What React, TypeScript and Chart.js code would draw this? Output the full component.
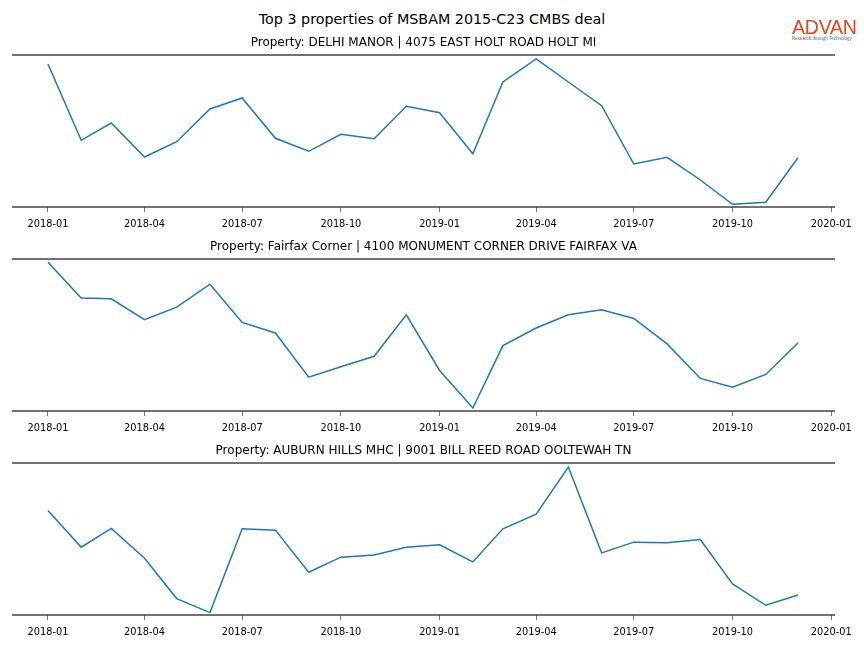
import React, { useEffect, useRef } from "react";
import { Chart, registerables } from "chart.js";

Chart.register(...registerables);

const months = [
  "2018-01", "2018-02", "2018-03", "2018-04", "2018-05", "2018-06",
  "2018-07", "2018-08", "2018-09", "2018-10", "2018-11", "2018-12",
  "2019-01", "2019-02", "2019-03", "2019-04", "2019-05", "2019-06",
  "2019-07", "2019-08", "2019-09", "2019-10", "2019-11", "2019-12",
];

const tickLabels = [
  "2018-01", "2018-04", "2018-07", "2018-10",
  "2019-01", "2019-04", "2019-07", "2019-10", "2020-01",
];

const mainTitle = "Top 3 properties of MSBAM 2015-C23 CMBS deal";

const panelTitles = [
  "Property: DELHI MANOR | 4075 EAST HOLT ROAD HOLT MI",
  "Property: Fairfax Corner | 4100 MONUMENT CORNER DRIVE FAIRFAX VA",
  "Property: AUBURN HILLS MHC | 9001 BILL REED ROAD OOLTEWAH TN",
];

// relative monthly activity index
const delhiManor = [
  143, 66.7, 84, 50, 65.3, 98, 109, 68.7, 55.7, 72.7, 68.3, 100.7,
  94.3, 53.3, 125, 148, 125, 101.3, 43, 49.7, 27, 2.7, 4.7, 49.3,
];

const fairfaxCorner = [
  149.4, 113.4, 112.7, 91.7, 104.4, 127.4, 89, 78.4, 34, 44.4, 55, 96.7,
  40.7, 3, 65.7, 83.4, 96.7, 101.7, 93, 67.4, 32.7, 24, 36.7, 68.4,
];

const auburnHills = [
  104.4, 67.7, 86.4, 56.7, 16.4, 2.4, 86, 84.7, 42.7, 57.7, 60, 67.7,
  70, 53, 86, 100.7, 147.7, 62, 72.7, 72, 75.4, 31, 9.7, 20,
];

const seriesList = [delhiManor, fairfaxCorner, auburnHills];
const yMax = [152, 152.7, 151.7];

const dayOffset = (label: string) => {
  const [y, m] = label.split("-").map(Number);
  return (Date.UTC(y, m - 1, 1) - Date.UTC(2018, 0, 1)) / 86400000;
};

const tickMap = new Map<number, string>(tickLabels.map((l) => [dayOffset(l), l]));

const spineTops = [55, 259, 463];
const PLOT_H = 152;
const PAD_TOP = 10;
const AXIS_H = 33;
const CANVAS_H = PAD_TOP + PLOT_H + AXIS_H;

const spinePlugin = {
  id: "spines",
  afterDraw(chart: any) {
    const { ctx, chartArea } = chart;
    ctx.save();
    ctx.strokeStyle = "#444444";
    ctx.lineWidth = 1.6;
    ctx.beginPath();
    ctx.moveTo(chartArea.left, chartArea.top);
    ctx.lineTo(chartArea.right, chartArea.top);
    ctx.moveTo(chartArea.left, chartArea.bottom);
    ctx.lineTo(chartArea.right, chartArea.bottom);
    ctx.stroke();
    ctx.restore();
  },
};

function Panel({ index }: { index: number }) {
  const ref = useRef<HTMLCanvasElement | null>(null);
  useEffect(() => {
    if (!ref.current) return;
    const values = seriesList[index];
    const chart = new Chart(ref.current, {
      type: "line",
      data: {
        datasets: [
          {
            data: months.map((m, i) => ({ x: dayOffset(m), y: values[i] })),
            borderColor: "#1f77b4",
            borderWidth: 1.5,
            pointRadius: 0,
            tension: 0,
            fill: false,
          },
        ],
      },
      options: {
        animation: false,
        responsive: false,
        layout: { padding: { left: 12, right: 29, top: PAD_TOP, bottom: 0 } },
        plugins: { legend: { display: false }, tooltip: { enabled: false }, title: { display: false } },
        scales: {
          x: {
            type: "linear",
            min: -33.5,
            max: 733.5,
            afterBuildTicks: (scale: any) => {
              scale.ticks = tickLabels.map((l) => ({ value: dayOffset(l) }));
            },
            afterFit: (scale: any) => {
              scale.height = AXIS_H;
            },
            border: { display: false },
            grid: {
              display: true,
              drawOnChartArea: false,
              drawTicks: true,
              tickLength: 5,
              tickColor: "#555555",
              lineWidth: 0.8,
            },
            ticks: {
              autoSkip: false,
              maxRotation: 0,
              padding: 7,
              color: "#000000",
              font: { family: "DejaVu Sans", size: 9.8 },
              callback: (v: any) => tickMap.get(Number(v)) ?? "",
            },
          },
          y: {
            display: false,
            min: 0,
            max: yMax[index],
          },
        },
      },
      plugins: [spinePlugin],
    });
    return () => chart.destroy();
  }, [index]);

  return (
    <canvas
      ref={ref}
      width={864}
      height={CANVAS_H}
      style={{ position: "absolute", left: 0, top: spineTops[index] - PAD_TOP, width: 864, height: CANVAS_H }}
    />
  );
}

export default function App() {
  return (
    <div
      style={{
        position: "absolute",
        left: 0,
        top: 0,
        width: 864,
        height: 648,
        background: "#ffffff",
        fontFamily: "DejaVu Sans",
        overflow: "hidden",
      }}
    >
      {[0, 1, 2].map((i) => (
        <Panel key={i} index={i} />
      ))}
      <div
        style={{
          position: "absolute",
          left: 0,
          width: 864,
          top: 9,
          height: 20,
          lineHeight: "20px",
          textAlign: "center",
          fontSize: 14.3,
          color: "#000",
          whiteSpace: "nowrap",
        }}
      >
        {mainTitle}
      </div>
      {panelTitles.map((t, i) => (
        <div
          key={t}
          style={{
            position: "absolute",
            left: 12,
            width: 823,
            top: spineTops[i] - 13 - 8,
            height: 16,
            lineHeight: "16px",
            textAlign: "center",
            fontSize: 12,
            color: "#000",
            whiteSpace: "nowrap",
          }}
        >
          {t}
        </div>
      ))}
      <div
        style={{
          position: "absolute",
          left: 792,
          top: 16,
          fontFamily: "Liberation Sans",
          fontSize: 19.5,
          fontWeight: 500,
          lineHeight: "22px",
          color: "#e2461c",
          letterSpacing: -0.2,
        }}
      >
        ADVAN
      </div>
      <div
        style={{
          position: "absolute",
          left: 792,
          top: 36,
          fontFamily: "Liberation Sans",
          fontSize: 4.5,
          lineHeight: "5px",
          color: "#666",
          whiteSpace: "nowrap",
        }}
      >
        Research through Technology
      </div>
    </div>
  );
}
